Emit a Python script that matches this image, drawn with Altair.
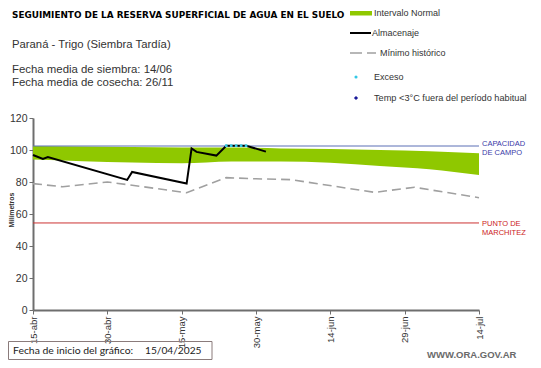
import altair as alt
import pandas as pd

# ---- data ----
stor_dates = ["2025-04-15", "2025-04-17", "2025-04-18", "2025-05-04", "2025-05-05",
              "2025-05-16", "2025-05-17", "2025-05-18", "2025-05-22", "2025-05-24",
              "2025-05-28", "2025-06-01"]
stor_vals = [96.9, 94.4, 95.6, 81.3, 86.3, 79.0, 101.0, 98.8, 96.5, 102.7, 102.7, 99.0]

min_dates = ["2025-04-15", "2025-04-21", "2025-04-30", "2025-05-05", "2025-05-16",
             "2025-05-24", "2025-05-30", "2025-06-06", "2025-06-23", "2025-06-25",
             "2025-07-01", "2025-07-14"]
min_vals = [79.0, 77.0, 80.0, 78.0, 73.3, 82.7, 82.0, 81.5, 73.5, 74.4, 76.7, 70.2]

band_dates = ["2025-04-15", "2025-04-25", "2025-05-05", "2025-05-15", "2025-05-25",
              "2025-06-04", "2025-06-14", "2025-06-24", "2025-07-04", "2025-07-14"]
band_top = [102.5, 102.2, 101.8, 101.5, 101.5, 101.0, 100.6, 100.0, 99.2, 98.0]
band_bot = [94.0, 93.0, 92.2, 91.7, 92.8, 92.8, 92.0, 90.0, 88.0, 84.4]

exc_dates = ["2025-05-24", "2025-05-25", "2025-05-26", "2025-05-27", "2025-05-28"]
exc_vals = [102.7, 102.7, 102.7, 102.7, 102.7]

capacidad = 102.5
marchitez = 54.4
y_ticks = [0, 20, 40, 60, 80, 100, 120]
x_tick_dates = [(2025, 4, 15), (2025, 4, 30), (2025, 5, 15), (2025, 5, 30),
                (2025, 6, 14), (2025, 6, 29), (2025, 7, 14)]
meses = ['ene', 'feb', 'mar', 'abr', 'may', 'jun', 'jul', 'ago', 'sep', 'oct', 'nov', 'dic']

stor_df = pd.DataFrame({"d": stor_dates, "v": stor_vals})
min_df = pd.DataFrame({"d": min_dates, "v": min_vals})
band_df = pd.DataFrame({"d": band_dates, "top": band_top, "bot": band_bot})
exc_df = pd.DataFrame({"d": exc_dates, "v": exc_vals})
ref_df = pd.DataFrame({"d": ["2025-04-15"], "d2": ["2025-07-14"],
                       "cap": [capacidad], "mar": [marchitez]})

OX, OY = 33, 118  # plot origin in page pixels
FONT = "Liberation Sans"

def dt(t):
    return alt.DateTime(year=t[0], month=t[1], date=t[2], utc=True)

label_expr = ("utcdate(datum.value) + '-' + " + str(meses) + "[utcmonth(datum.value)]")

xscale = alt.Scale(type="utc", domain=[dt(x_tick_dates[0]), dt(x_tick_dates[-1])])
xaxis = alt.Axis(values=[dt(t) for t in x_tick_dates], labelExpr=label_expr,
                 labelAngle=270, labelFontSize=9.5, labelColor="#333333", labelFont=FONT,
                 grid=False, domainColor="#6e6e6e", domainWidth=2, tickColor="#6e6e6e",
                 tickSize=4, labelPadding=2, labelOverlap=False, title=None)
yscale = alt.Scale(domain=[0, 120], nice=False)
yaxis = alt.Axis(values=y_ticks, labelFontSize=10.5, labelColor="#333333", labelFont=FONT,
                 grid=False, domainColor="#6e6e6e", domainWidth=2, tickColor="#6e6e6e",
                 tickSize=4, labelPadding=2, labelOverlap=False, labelSeparation=0,
                 title=None)

band = alt.Chart(band_df).mark_area(color="#8fc800", interpolate="monotone").encode(
    x=alt.X("d:T", scale=xscale, axis=xaxis),
    y=alt.Y("top:Q", scale=yscale, axis=yaxis),
    y2="bot:Q")

cap_rule = alt.Chart(ref_df).mark_rule(color="#5a6fb5", strokeWidth=1).encode(
    x="d:T", x2="d2:T", y=alt.Y("cap:Q", axis=yaxis))
mar_rule = alt.Chart(ref_df).mark_rule(color="#cc3333", strokeWidth=1).encode(
    x="d:T", x2="d2:T", y=alt.Y("mar:Q", axis=yaxis))

minline = alt.Chart(min_df).mark_line(color="#a0a0a0", strokeWidth=1.6,
                                      strokeDash=[9, 5]).encode(
    x="d:T", y=alt.Y("v:Q", axis=yaxis))
storline = alt.Chart(stor_df).mark_line(color="#000000", strokeWidth=2).encode(
    x="d:T", y=alt.Y("v:Q", axis=yaxis))
exc = alt.Chart(exc_df).mark_square(color="#33c8e6", size=7, opacity=1).encode(
    x="d:T", y=alt.Y("v:Q", axis=yaxis))

one = alt.Data(values=[{}])

def txt(s, x, y, size=11, color="#333333", weight="normal", align="left", font=FONT, angle=0):
    return alt.Chart(one).mark_text(text=s, align=align, baseline="middle", fontSize=size,
                                    color=color, fontWeight=weight, font=font,
                                    angle=angle).encode(
        x=alt.value(x - OX), y=alt.value(y - OY))

texts = [
    txt("SEGUIMIENTO DE LA RESERVA  SUPERFICIAL DE AGUA EN EL SUELO", 12, 15, size=8.9,
        color="#000000", weight="bold", font="DejaVu Sans"),
    txt("Paraná - Trigo (Siembra Tardía)", 12, 45, size=11.3),
    txt("Fecha media de siembra: 14/06", 12, 70, size=11.4),
    txt("Fecha media de cosecha: 26/11", 12, 83, size=11.4),
    txt("Intervalo Normal", 374, 13, size=9),
    txt("Almacenaje", 372, 33, size=9),
    txt("Mínimo histórico", 380, 53, size=9),
    txt("Exceso", 374, 77, size=9),
    txt("Temp <3°C fuera del período habitual", 374, 98, size=9.2),
    txt("CAPACIDAD", 482, 144, size=7.5, color="#3a3aa8"),
    txt("DE  CAMPO", 482, 153, size=7.5, color="#3a3aa8"),
    txt("PUNTO   DE", 482, 224, size=7.5, color="#cc2222"),
    txt("MARCHITEZ", 482, 233, size=7.5, color="#cc2222"),
    txt("Milímetros", 12, 210, size=7, color="#333333", weight="bold", align="center", angle=270),
    txt("Fecha de inicio del gráfico:", 13, 350.5, size=10.4, color="#222222", font="Lato"),
    txt("15/04/2025", 145, 350.5, size=10.2, color="#222222", font="Lato"),
    txt("WWW.ORA.GOV.AR", 427, 355, size=9.5, color="#6a6a6a", weight="bold"),
]

leg_rect = alt.Chart(one).mark_rect(color="#8fc800").encode(
    x=alt.value(350 - OX), x2=alt.value(372 - OX), y=alt.value(11 - OY), y2=alt.value(15.5 - OY))
leg_stor = alt.Chart(one).mark_rule(color="#000000", strokeWidth=2).encode(
    x=alt.value(350 - OX), x2=alt.value(371 - OX), y=alt.value(33 - OY))
leg_min = alt.Chart(one).mark_rule(color="#a0a0a0", strokeWidth=1.5, strokeDash=[12, 5]).encode(
    x=alt.value(350 - OX), x2=alt.value(376 - OX), y=alt.value(53 - OY))
leg_exc = alt.Chart(one).mark_circle(color="#33c8e6", size=10, opacity=1).encode(
    x=alt.value(356 - OX), y=alt.value(77 - OY))
leg_temp = alt.Chart(one).mark_point(shape="diamond", filled=True, color="#1a1a99",
                                     size=18, opacity=1).encode(
    x=alt.value(356 - OX), y=alt.value(98 - OY))
box = alt.Chart(one).mark_rect(fill="white", fillOpacity=0, stroke="#8a7b7b",
                               strokeWidth=1).encode(
    x=alt.value(8.5 - OX), x2=alt.value(212 - OX), y=alt.value(341.5 - OY), y2=alt.value(359.5 - OY))

chart = alt.layer(
    band, cap_rule, mar_rule, minline, storline, exc,
    leg_rect, leg_stor, leg_min, leg_exc, leg_temp, box, *texts
).properties(
    width=446, height=192,
    autosize=alt.AutoSizeParams(type="none"),
    padding={"left": 25, "top": 110, "right": 54, "bottom": 50},
    background="white"
).configure_view(stroke=None).configure_axis(labelOverlap=False)

chart.save("out.html", embed_options={"renderer": "svg", "actions": False})
